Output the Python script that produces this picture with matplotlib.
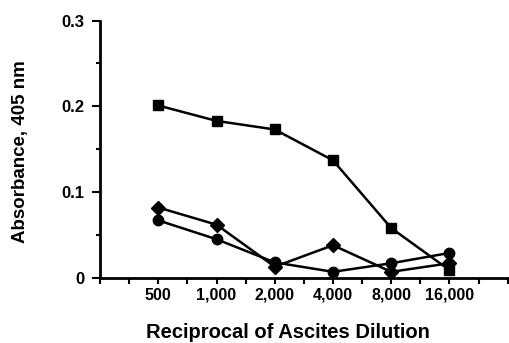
import matplotlib
matplotlib.use("Agg")
import matplotlib.pyplot as plt
from matplotlib.ticker import MultipleLocator

dilutions = ["500", "1,000", "2,000", "4,000", "8,000", "16,000"]
squares = [0.201, 0.183, 0.173, 0.137, 0.058, 0.009]
diamonds = [0.082, 0.062, 0.013, 0.038, 0.007, 0.017]
circles = [0.067, 0.045, 0.018, 0.007, 0.017, 0.029]

plt.rcParams['font.family'] = ['Liberation Sans', 'DejaVu Sans']
plt.rcParams['font.weight'] = 'bold'

fig = plt.figure(figsize=(5.09, 3.43), dpi=100)
ax = fig.add_axes([0.1965, 0.19, 0.801, 0.75])

x = list(range(len(dilutions)))
ax.plot(x, squares, color='black', lw=1.8, marker='s', ms=7)
ax.plot(x, diamonds, color='black', lw=1.8, marker='D', ms=7.5)
ax.plot(x, circles, color='black', lw=1.8, marker='o', ms=7.5)

ax.set_xlim(-1, 6)
ax.set_ylim(0, 0.3)
ax.set_xticks(x)
ax.set_xticklabels(dilutions)
ax.xaxis.set_minor_locator(MultipleLocator(0.5))
ax.set_yticks([0, 0.1, 0.2, 0.3])
ax.set_yticklabels(["0", "0.1", "0.2", "0.3"])
ax.yaxis.set_minor_locator(MultipleLocator(0.05))

for s in ['top', 'right']:
    ax.spines[s].set_visible(False)
for s in ['left', 'bottom']:
    ax.spines[s].set_linewidth(2)

ax.tick_params(axis='x', which='both', direction='out', length=4, width=1.5, labelsize=11.5, pad=3)
ax.tick_params(axis='y', which='major', direction='out', length=6, width=1.5, labelsize=12, pad=5)
ax.tick_params(axis='y', which='minor', direction='out', length=3, width=1.5)

fig.text(0.566, 0.032, "Reciprocal of Ascites Dilution", fontsize=14.5, fontweight='bold',
         ha='center', va='center')
fig.text(0.041, 0.558, "Absorbance, 405 nm", fontsize=13.5, fontweight='bold',
         ha='center', va='center', rotation=90)

fig.savefig("out.png", dpi=100)
